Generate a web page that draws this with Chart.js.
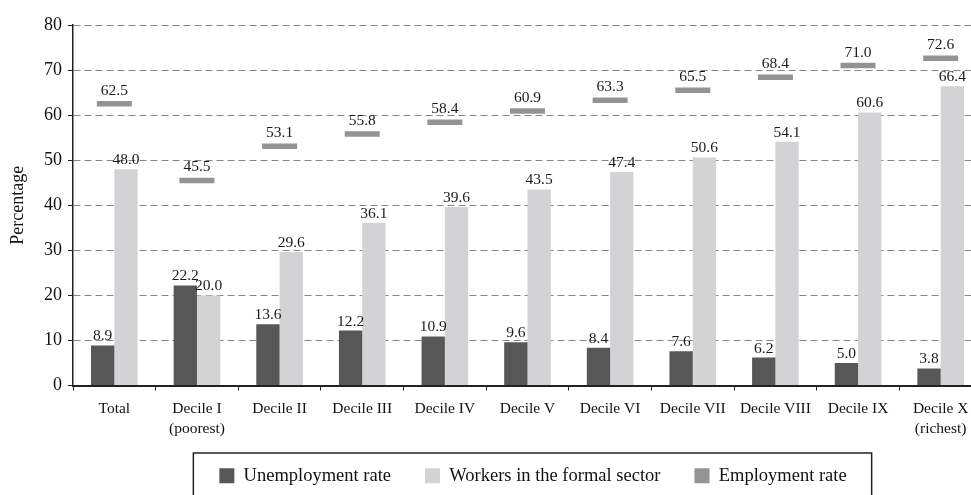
<!DOCTYPE html>
<html>
<head>
<meta charset="utf-8">
<script src="https://cdn.jsdelivr.net/npm/chart.js@4.4.1/dist/chart.umd.min.js"></script>
<style>
  html, body { margin: 0; padding: 0; background: #fff; overflow: hidden; }
  #wrap { width: 1066px; height: 495px; }
</style>
</head>
<body>
<div id="wrap"><canvas id="myChart" width="1066" height="495"></canvas></div>
<script>
// data
var categories = [
  'Total', ['Decile I', '(poorest)'], 'Decile II', 'Decile III', 'Decile IV', 'Decile V',
  'Decile VI', 'Decile VII', 'Decile VIII', 'Decile IX', ['Decile X', '(richest)']
];
var unemploymentRate = [8.9, 22.2, 13.6, 12.2, 10.9, 9.6, 8.4, 7.6, 6.2, 5.0, 3.8];
var formalWorkers = [48.0, 20.0, 29.6, 36.1, 39.6, 43.5, 47.4, 50.6, 54.1, 60.6, 66.4];
var employmentRate = [62.5, 45.5, 53.1, 55.8, 58.4, 60.9, 63.3, 65.5, 68.4, 71.0, 72.6];
var yTicks = [0, 10, 20, 30, 40, 50, 60, 70, 80];

var serif = "'Liberation Serif', 'Times New Roman', serif";

// value labels above bars and markers
var valueLabels = {
  id: 'valueLabels',
  afterDatasetsDraw: function(chart) {
    var ctx = chart.ctx;
    ctx.save();
    ctx.font = '15.5px ' + serif;
    ctx.fillStyle = '#1a1a1a';
    ctx.textAlign = 'center';
    ctx.textBaseline = 'alphabetic';
    chart.data.datasets.forEach(function(ds, i) {
      var meta = chart.getDatasetMeta(i);
      var off = ds.type === 'line' ? 9 : 5;
      meta.data.forEach(function(el, j) {
        ctx.fillText(ds.data[j].toFixed(1), el.x, el.y - off);
      });
    });
    ctx.restore();
  }
};

// frame round the legend
var legendFrame = {
  id: 'legendFrame',
  afterDraw: function(chart) {
    var lg = chart.legend;
    if (!lg || !lg.legendHitBoxes || !lg.legendHitBoxes.length) return;
    var boxes = lg.legendHitBoxes;
    var first = boxes[0], last = boxes[boxes.length - 1];
    var ctx = chart.ctx;
    ctx.save();
    ctx.strokeStyle = '#222';
    ctx.lineWidth = 1.5;
    ctx.strokeRect(first.left - 26, lg.top + 20.5, (last.left + last.width + 25) - (first.left - 26), 80);
    ctx.restore();
  }
};

new Chart(document.getElementById('myChart'), {
  type: 'bar',
  data: {
    labels: categories,
    datasets: [
      {
        label: 'Unemployment rate',
        data: unemploymentRate,
        backgroundColor: '#575757',
        borderWidth: 0,
        categoryPercentage: 0.564,
        barPercentage: 1.0
      },
      {
        label: 'Workers in the formal sector',
        data: formalWorkers,
        backgroundColor: '#d3d3d5',
        borderWidth: 0,
        categoryPercentage: 0.564,
        barPercentage: 1.0
      },
      {
        type: 'line',
        label: 'Employment rate',
        data: employmentRate,
        showLine: false,
        backgroundColor: '#939393',
        borderColor: '#939393',
        borderWidth: 0,
        pointStyle: 'line',
        pointRadius: 17.5,
        pointHoverRadius: 17.5,
        pointBorderWidth: 5.5,
        pointBorderColor: '#939393'
      }
    ]
  },
  options: {
    responsive: false,
    animation: false,
    events: [],
    layout: { padding: { top: 25, left: 0, right: 0, bottom: 0 } },
    plugins: {
      tooltip: { enabled: false },
      legend: {
        position: 'bottom',
        labels: {
          boxWidth: 15,
          boxHeight: 15,
          padding: 34,
          color: '#111',
          font: { family: serif, size: 18.5 }
        }
      }
    },
    scales: {
      x: {
        grid: {
          display: true,
          drawOnChartArea: false,
          drawTicks: true,
          tickLength: 5,
          tickColor: '#222',
          offset: true
        },
        border: { display: true, color: '#222', width: 2 },
        ticks: {
          color: '#111',
          padding: 8,
          maxRotation: 0,
          autoSkip: false,
          font: { family: serif, size: 15.5, lineHeight: 1.3 }
        },
        afterFit: function(s) {
          s.height = 47;
          // second label lines run below the axis box, so don't clip them to it
          s._computeLabelArea = function() { return undefined; };
        }
      },
      y: {
        min: 0,
        max: 80,
        afterBuildTicks: function(s) { s.ticks = yTicks.map(function(v) { return { value: v }; }); },
        grid: {
          color: function(c) { return c.tick && c.tick.value === 0 ? 'rgba(0,0,0,0)' : '#868686'; },
          lineWidth: 1,
          drawTicks: true,
          tickLength: 5,
          tickColor: '#222'
        },
        border: { display: true, color: '#222', width: 1.5, dash: [7, 4] },
        ticks: {
          color: '#111',
          padding: 6,
          font: { family: serif, size: 18 }
        },
        title: {
          display: true,
          text: 'Percentage',
          color: '#111',
          padding: { top: 7, bottom: 0 },
          font: { family: serif, size: 18 }
        },
        afterFit: function(s) { s.width = 73; }
      },
      // empty scale on the right: the plot runs past the picture's right edge
      y2: {
        position: 'right',
        display: true,
        min: 0,
        max: 80,
        grid: { display: false, drawTicks: false },
        border: { display: false },
        ticks: { display: false },
        afterFit: function(s) { s.width = 84; }
      }
    }
  },
  plugins: [valueLabels, legendFrame]
});
</script>
</body>
</html>
